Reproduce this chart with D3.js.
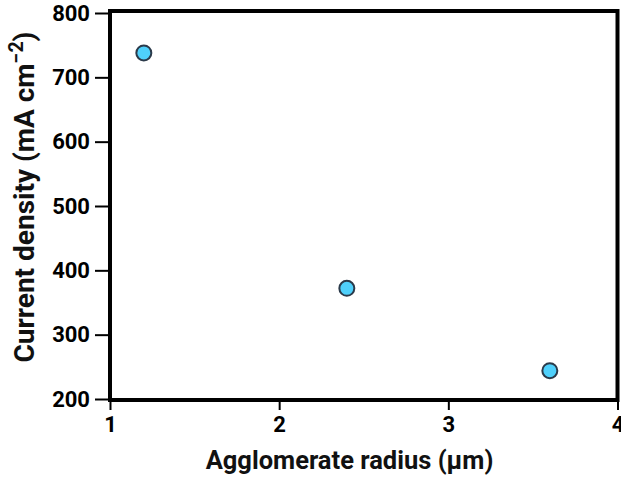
<!DOCTYPE html>
<html>
<head>
<meta charset="utf-8">
<script src="https://cdn.jsdelivr.net/npm/d3@7"></script>
<style>
  html, body { margin: 0; padding: 0; background: #fff; }
  svg { display: block; font-family: Roboto, "Liberation Sans", sans-serif; }
</style>
</head>
<body>
<svg id="chart" width="621" height="482"></svg>
<script>
// Agglomerate radius (µm) vs. current density (mA cm⁻²)
const radius = [1.2, 2.4, 3.6];
const currentDensity = [738, 372, 244];
const xTicks = [1, 2, 3, 4];
const yTicks = [200, 300, 400, 500, 600, 700, 800];

const width = 621, height = 482;
const margin = { top: 13, right: 3.5, bottom: 83, left: 110 };

const svg = d3.select("#chart");

const x = d3.scaleLinear().domain([1, 4]).range([margin.left, width - margin.right]);
const y = d3.scaleLinear().domain([200, 800]).range([height - margin.bottom, margin.top]);

// Frame around the plot area
svg.append("rect")
  .attr("x", x(1)).attr("y", y(800) - 2)
  .attr("width", x(4) - x(1)).attr("height", y(200) - y(800) + 3)
  .attr("fill", "none").attr("stroke", "#000").attr("stroke-width", 4);

// Y axis
const yAxis = svg.append("g")
  .attr("transform", `translate(${x(1)},0)`)
  .call(d3.axisLeft(y).tickValues(yTicks).tickSize(15).tickPadding(5).tickFormat(d3.format("d")));
yAxis.select(".domain").remove();
yAxis.selectAll(".tick line").attr("stroke", "#000").attr("stroke-width", 2);
yAxis.selectAll(".tick text")
  .attr("fill", "#000").attr("font-size", 22).attr("font-weight", 700)
  .attr("font-family", "Roboto, sans-serif");

// X axis
const xAxis = svg.append("g")
  .attr("transform", `translate(0,${y(200) + 1})`)
  .call(d3.axisBottom(x).tickValues(xTicks).tickSize(10).tickPadding(6).tickFormat(d3.format("d")));
xAxis.select(".domain").remove();
xAxis.selectAll(".tick line").attr("stroke", "#000").attr("stroke-width", 2);
xAxis.selectAll(".tick text")
  .attr("fill", "#000").attr("font-size", 22).attr("font-weight", 700)
  .attr("font-family", "Roboto, sans-serif");

// Axis titles
svg.append("text")
  .attr("x", 349.5).attr("y", 469)
  .attr("text-anchor", "middle")
  .attr("font-size", 25.5).attr("font-weight", 700).attr("fill", "#111")
  .text("Agglomerate radius (µm)");

const yTitle = svg.append("text")
  .attr("transform", `translate(34,197) rotate(-90)`)
  .attr("text-anchor", "middle")
  .attr("font-size", 28).attr("font-weight", 700).attr("fill", "#111");
yTitle.append("tspan").text("Current density (mA cm");
yTitle.append("tspan").attr("font-size", 19.5).attr("dy", -11).text("−2");
yTitle.append("tspan").attr("dy", 11).text(")");

// Data points
const points = radius.map((r, i) => ({ r, j: currentDensity[i] }));
svg.append("g").selectAll("circle")
  .data(points)
  .join("circle")
  .attr("cx", d => x(d.r))
  .attr("cy", d => y(d.j))
  .attr("r", 7.5)
  .attr("fill", "#4fd0fb")
  .attr("stroke", "#2b3a4a")
  .attr("stroke-width", 2);
</script>
</body>
</html>
